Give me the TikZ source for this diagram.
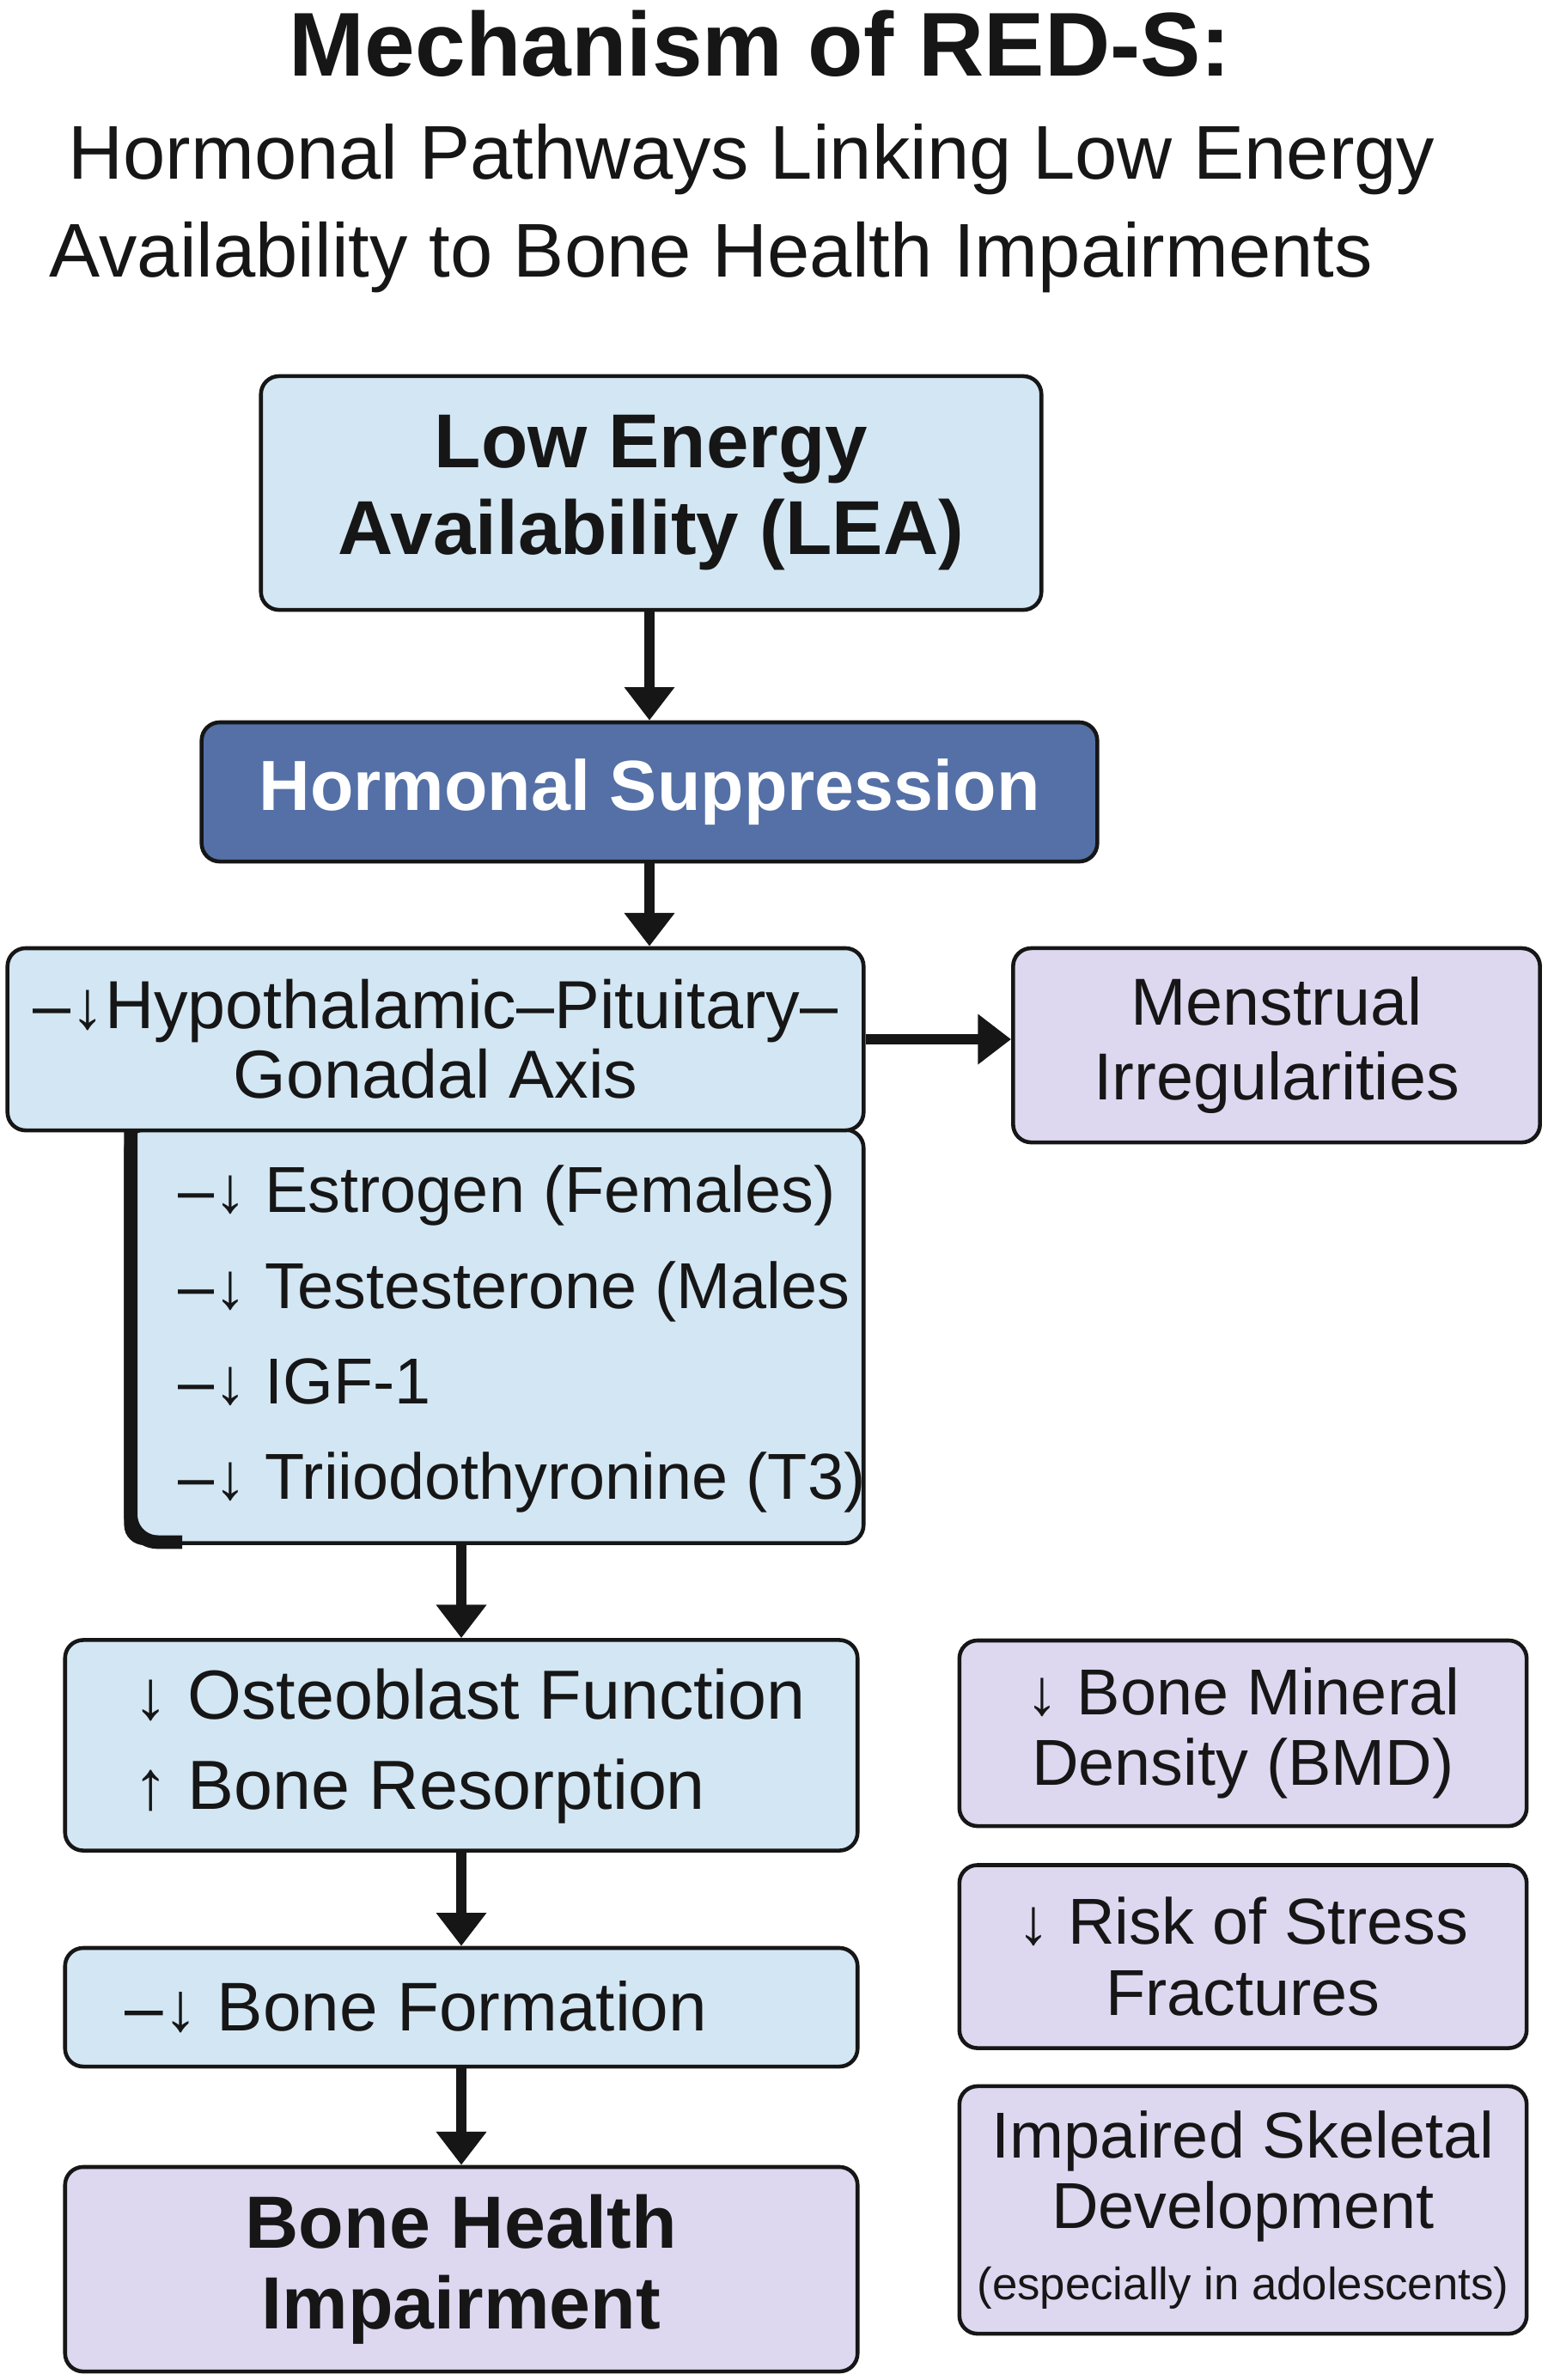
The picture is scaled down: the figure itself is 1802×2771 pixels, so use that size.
\documentclass[tikz,border=0pt]{standalone}
\usepackage{fontspec}
\setmainfont{Liberation Sans}
\usetikzlibrary{arrows.meta,positioning}
\definecolor{ink}{HTML}{161616}
\definecolor{paleblue}{HTML}{D3E6F3}
\definecolor{deepblue}{HTML}{5470A6}
\definecolor{lilac}{HTML}{DDD8F0}
\newcommand\fsz[2]{\fontsize{#1}{#2}\selectfont}
\tikzset{
  basebox/.style={draw=ink,line width=1.3pt,rounded corners=6pt,align=center,text=ink,inner sep=0pt},
  bluebox/.style={basebox,fill=paleblue},
  darkbox/.style={basebox,fill=deepblue,text=white},
  lilacbox/.style={basebox,fill=lilac},
  lefttext/.style={anchor=west,align=left,text=ink,inner sep=0pt},
  arrow/.style={-{Triangle[length=11pt,width=16pt]},line width=3.5pt,draw=ink}
}

\begin{document}
\begin{tikzpicture}[x=0.01cm,y=-0.01cm,
    mainbox/.style={bluebox,minimum width=9.22cm},
    sidebox/.style={lilacbox,minimum width=6.6cm,font=\fsz{21.5pt}{23.5pt}}
  ]
  \useasboundingbox[fill=white] (0,0) rectangle (1802,2771);
  % heading
  \node[anchor=base,text=ink,font=\fsz{30pt}{36pt}\bfseries] (title) at (885,88) {Mechanism of RED-S:};
  \node[anchor=base,text=ink,font=\fsz{25.2pt}{30pt}] (sub1) at (875,208) {Hormonal Pathways Linking Low Energy};
  \node[anchor=base,text=ink,font=\fsz{25.2pt}{30pt}] (sub2) at (828,322) {Availability to Bone Health Impairments};

  % main chain
  \node[bluebox,minimum width=9.08cm,minimum height=2.72cm,font=\fsz{25.3pt}{28.7pt}\bfseries] (lea) at (758,574)
    {Low Energy\\Availability (LEA)};
  \node[darkbox,minimum width=10.42cm,minimum height=1.62cm,font=\fsz{23.5pt}{28pt}\bfseries] (hs) at (756,922)
    {Hormonal Suppression};
  \node[bluebox,minimum width=8.58cm,minimum height=4.81cm] (list) at (576,1556) {};
  \node[lefttext,font=\fsz{21.5pt}{31.6pt}] (listtxt) at (207,1559)
    {–↓ Estrogen (Females)\\–↓ Testesterone (Males\\–↓ IGF-1\\–↓ Triiodothyronine (T3)};
  \draw[ink,line width=4.5pt,rounded corners=9pt] ([xshift=2.2pt]list.north west)
    -- ([xshift=2.2pt,yshift=1pt]list.south west) -- ++(60,0);
  \node[bluebox,minimum width=9.96cm,minimum height=2.12cm,font=\fsz{22.5pt}{23pt}] (hpg) at (507,1210)
    {–↓Hypothalamic–Pituitary–\\Gonadal Axis};
  \node[sidebox,minimum width=6.13cm,minimum height=2.26cm,font=\fsz{22pt}{24.6pt}] (mens) at (1486,1217)
    {Menstrual\\Irregularities};
  \node[mainbox,minimum height=2.45cm] (osteo) at (537,2032) {};
  \node[lefttext,font=\fsz{23pt}{30pt}] (osteotxt) at (155,2033)
    {↓ Osteoblast Function\\↑ Bone Resorption};
  \node[mainbox,minimum height=1.38cm] (bf) at (537,2337) {};
  \node[lefttext,font=\fsz{22.8pt}{28pt}] (bftxt) at (145,2337) {–↓ Bone Formation};
  \node[mainbox,lilacbox,minimum height=2.38cm,font=\fsz{24.5pt}{26.6pt}\bfseries] (bhi) at (537,2642)
    {Bone Health\\Impairment};

  % outcomes
  \node[sidebox,minimum height=2.16cm] (bmd) at (1447,2018) {↓ Bone Mineral\\Density (BMD)};
  \node[sidebox,minimum height=2.13cm] (stress) at (1447,2278) {↓ Risk of Stress\\Fractures};
  \node[sidebox,minimum height=2.88cm] (skel) at (1447,2573)
    {Impaired Skeletal\\Development\\{\fsz{15pt}{23pt}(especially in adolescents)}};

  % connectors
  \draw[arrow] (hs.north |- lea.south) -- (hs.north);
  \draw[arrow] (hs.south) -- (hs.south |- hpg.north);
  \draw[arrow] (hpg.east) -- (hpg.east -| mens.west);
  \draw[arrow] (osteo.north |- list.south) -- (osteo.north);
  \draw[arrow] (osteo) -- (bf);
  \draw[arrow] (bf) -- (bhi);
\end{tikzpicture}
\end{document}
